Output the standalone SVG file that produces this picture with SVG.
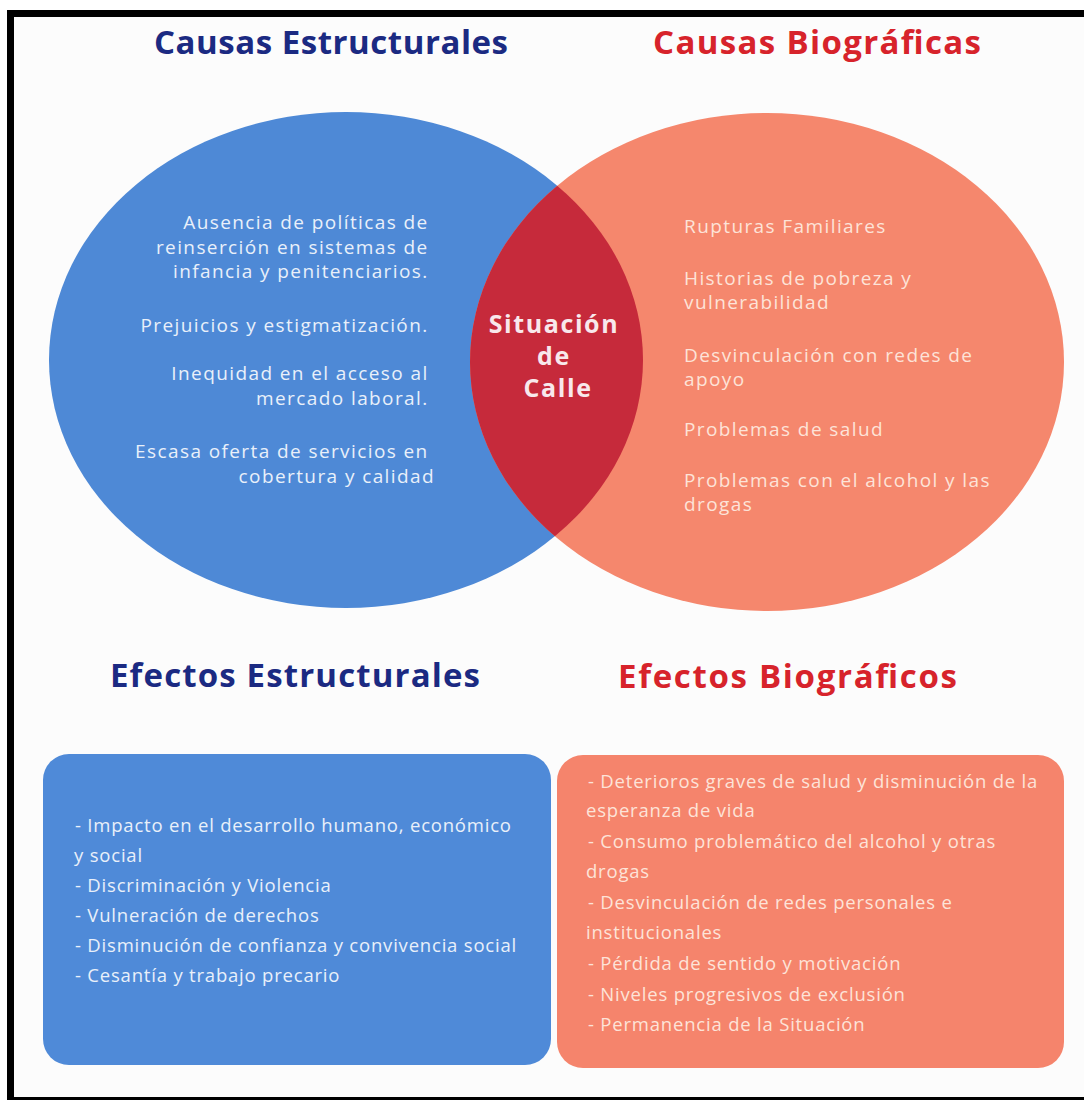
<svg xmlns="http://www.w3.org/2000/svg" width="1084" height="1101" viewBox="0 0 1084 1101">
  <style>
    .title { font-family: "Open Sans", "Noto Sans", sans-serif; font-weight: 700; font-size: 33px; }
    .navy { fill: #1b2a82; }
    .red { fill: #d7232b; }
    .body { font-family: "Open Sans", "Noto Sans", sans-serif; font-size: 19px; letter-spacing: 1.4px; }
    .boxtxt { font-family: "Open Sans", "Noto Sans", sans-serif; font-size: 18.5px; letter-spacing: 0.8px; }
    .onblue { fill: #e9f0fa; }
    .onsalmon { fill: #fde3d8; }
    .center { font-family: "Open Sans", "Noto Sans", sans-serif; font-weight: 700; font-size: 25px; letter-spacing: 1.6px; fill: #f8e8ec; }
  </style>
  <defs>
    <clipPath id="clipLeft">
      <ellipse cx="346" cy="360" rx="297" ry="248"/>
    </clipPath>
  </defs>
  <rect x="0" y="0" width="1084" height="1101" fill="#ffffff"/>
  <rect x="14" y="17" width="1070" height="1080" fill="#fcfcfc"/>
  <path d="M7 10 H1084 V17 H14 V1097 H1084 V1100 H7 Z" fill="#000000"/>

  <g id="title-causas-estructurales">
    <text class="title navy" x="154" y="54" textLength="354" lengthAdjust="spacing">Causas Estructurales</text>
  </g>
  <g id="title-causas-biograficas">
    <text class="title red" x="653" y="54" textLength="328" lengthAdjust="spacing">Causas Biográficas</text>
  </g>

  <g id="causas-estructurales">
    <ellipse cx="346" cy="360" rx="297" ry="248" fill="#4e89d6"/>
    <text class="body onblue" text-anchor="end">
      <tspan x="435" y="229">Ausencia de políticas de</tspan>
      <tspan x="435" y="254">reinserción en sistemas de</tspan>
      <tspan x="435" y="278">infancia y penitenciarios.</tspan>
      <tspan x="435" y="332">Prejuicios y estigmatización.</tspan>
      <tspan x="435" y="380">Inequidad en el acceso al</tspan>
      <tspan x="435" y="405">mercado laboral.</tspan>
      <tspan x="435" y="458">Escasa oferta de servicios en</tspan>
      <tspan x="435" y="483">cobertura y calidad</tspan>
    </text>
  </g>

  <g id="causas-biograficas">
    <ellipse cx="767" cy="362" rx="297" ry="249" fill="#f5876d"/>
    <text class="body onsalmon">
      <tspan x="684" y="233">Rupturas Familiares</tspan>
      <tspan x="684" y="285">Historias de pobreza y</tspan>
      <tspan x="684" y="309">vulnerabilidad</tspan>
      <tspan x="684" y="362">Desvinculación con redes de</tspan>
      <tspan x="684" y="386">apoyo</tspan>
      <tspan x="684" y="436">Problemas de salud</tspan>
      <tspan x="684" y="487">Problemas con el alcohol y las</tspan>
      <tspan x="684" y="511">drogas</tspan>
    </text>
  </g>

  <g id="situacion-de-calle">
    <ellipse cx="767" cy="362" rx="297" ry="249" fill="#c62a3b" clip-path="url(#clipLeft)"/>
    <text class="center" text-anchor="middle">
      <tspan x="558" y="333">Situación</tspan>
      <tspan x="558" y="365">de</tspan>
      <tspan x="558" y="397">Calle</tspan>
    </text>
  </g>

  <g id="connectors"></g>

  <g id="title-efectos-estructurales">
    <text class="title navy" x="110" y="687" textLength="370" lengthAdjust="spacing">Efectos Estructurales</text>
  </g>
  <g id="title-efectos-biograficos">
    <text class="title red" x="618" y="688" textLength="339" lengthAdjust="spacing">Efectos Biográficos</text>
  </g>

  <g id="efectos-estructurales">
    <rect x="43" y="754" width="508" height="311" rx="26" fill="#4f8ad8"/>
    <text class="boxtxt onblue">
      <tspan x="75" y="832">- Impacto en el desarrollo humano, económico</tspan>
      <tspan x="74" y="862">y social</tspan>
      <tspan x="75" y="892">- Discriminación y Violencia</tspan>
      <tspan x="75" y="922">- Vulneración de derechos</tspan>
      <tspan x="75" y="952">- Disminución de confianza y convivencia social</tspan>
      <tspan x="75" y="982">- Cesantía y trabajo precario</tspan>
    </text>
  </g>

  <g id="efectos-biograficos">
    <rect x="557" y="755" width="507" height="313" rx="26" fill="#f5846c"/>
    <text class="boxtxt onsalmon">
      <tspan x="588" y="788">- Deterioros graves de salud y disminución de la</tspan>
      <tspan x="586" y="817">esperanza de vida</tspan>
      <tspan x="588" y="848">- Consumo problemático del alcohol y otras</tspan>
      <tspan x="586" y="878">drogas</tspan>
      <tspan x="588" y="909">- Desvinculación de redes personales e</tspan>
      <tspan x="586" y="939">institucionales</tspan>
      <tspan x="588" y="970">- Pérdida de sentido y motivación</tspan>
      <tspan x="588" y="1001">- Niveles progresivos de exclusión</tspan>
      <tspan x="588" y="1031">- Permanencia de la Situación</tspan>
    </text>
  </g>
</svg>
